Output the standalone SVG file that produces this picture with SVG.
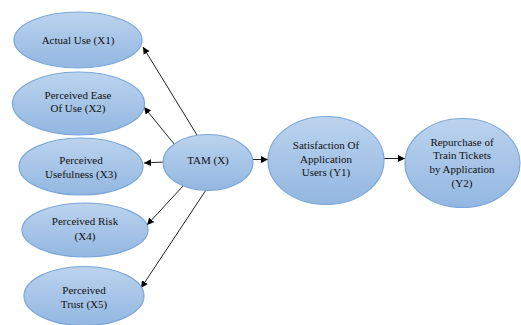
<svg xmlns="http://www.w3.org/2000/svg" width="521" height="325" viewBox="0 0 521 325">
<style>
.n{fill:url(#g);stroke:#7aa7da;stroke-width:1.2}
text{font-family:'Liberation Serif','DejaVu Serif',serif;font-size:11px;fill:#111;text-anchor:middle}
.c{stroke:#222;stroke-width:1;fill:none;marker-end:url(#a)}
</style>
<defs>
<linearGradient id="g" x1="0" y1="0" x2="0" y2="1">
<stop offset="0" stop-color="#bcd3ee"/>
<stop offset="1" stop-color="#92b7e1"/>
</linearGradient>
<marker id="a" viewBox="0 0 10 10" refX="10" refY="5" markerWidth="7" markerHeight="7" markerUnits="userSpaceOnUse" orient="auto">
<path d="M0,0 L10,5 L0,10 z" fill="#000"/>
</marker>
</defs>
<rect width="521" height="325" fill="#fff"/>
<g id="connectors">
<line class="c" x1="197" y1="135" x2="143" y2="47"/>
<line class="c" x1="175" y1="145" x2="144" y2="107"/>
<line class="c" x1="164" y1="162" x2="144" y2="163"/>
<line class="c" x1="183" y1="186" x2="147" y2="225"/>
<line class="c" x1="206" y1="190" x2="141" y2="288"/>
<line class="c" x1="253" y1="159.5" x2="268" y2="159.5"/>
<line class="c" x1="383" y1="158.5" x2="405" y2="158.5"/>
</g>
<g font-family="Liberation Serif, serif">
<g id="x1"><ellipse class="n" cx="78" cy="40" rx="64" ry="28"/><text x="78" y="44">Actual Use (X1)</text></g>
<g id="x2"><ellipse class="n" cx="78.5" cy="103.5" rx="66" ry="31.5"/><text x="78" y="98.5">Perceived Ease</text><text x="78" y="112">Of Use (X2)</text></g>
<g id="x3"><ellipse class="n" cx="81" cy="166.5" rx="62" ry="28.5"/><text x="81" y="164">Perceived</text><text x="81" y="178">Usefulness (X3)</text></g>
<g id="x4"><ellipse class="n" cx="85" cy="230" rx="63" ry="27"/><text x="85" y="225">Perceived Risk</text><text x="85" y="240">(X4)</text></g>
<g id="x5"><ellipse class="n" cx="84" cy="296" rx="60" ry="29.5"/><text x="84" y="294">Perceived</text><text x="84" y="308">Trust (X5)</text></g>
<g id="tam"><ellipse class="n" cx="208" cy="162.5" rx="45" ry="28"/><text x="208" y="164">TAM (X)</text></g>
<g id="y1"><ellipse class="n" cx="326" cy="160.5" rx="58" ry="44"/><text x="326" y="149">Satisfaction Of</text><text x="326" y="162.5">Application</text><text x="326" y="176">Users (Y1)</text></g>
<g id="y2"><ellipse class="n" cx="462.5" cy="163" rx="57.5" ry="44.5"/><text x="462" y="145.5">Repurchase of</text><text x="462" y="159">Train Tickets</text><text x="462" y="172.5">by Application</text><text x="462" y="186.5">(Y2)</text></g>
</g>
</svg>
